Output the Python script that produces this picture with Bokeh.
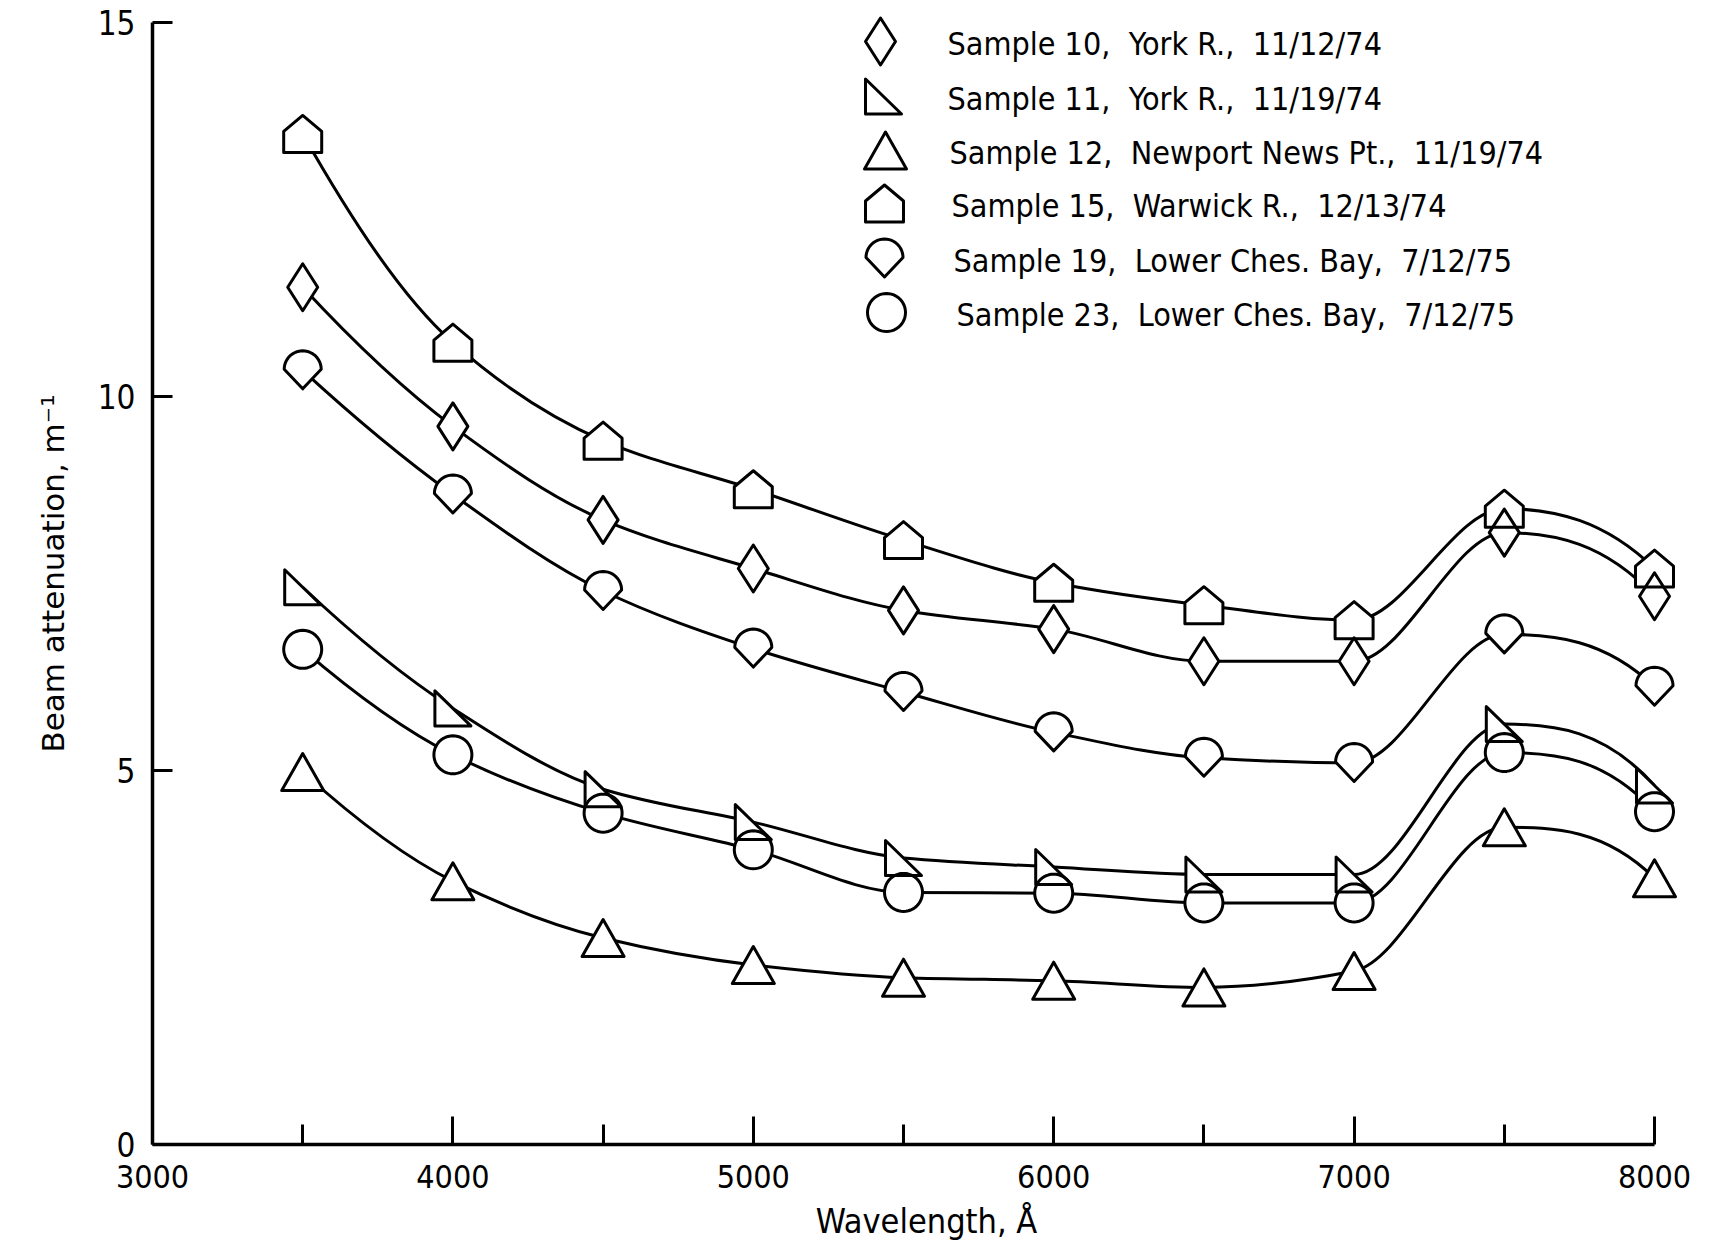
import math
from bokeh.plotting import figure
from bokeh.models import Range1d, FixedTicker, ColumnDataSource, Label
from bokeh.embed import file_html
from bokeh.resources import INLINE

# ---------------- data ----------------
wavelength = [3500, 4000, 4500, 5000, 5500, 6000, 6500, 7000, 7500, 8000]
sample10 = [11.46, 9.60, 8.35, 7.70, 7.14, 6.89, 6.46, 6.46, 8.18, 7.33]
sample11 = [7.45, 5.83, 4.75, 4.31, 3.83, 3.71, 3.61, 3.61, 5.62, 4.80]
sample12 = [4.98, 3.52, 2.76, 2.40, 2.23, 2.19, 2.10, 2.32, 4.24, 3.56]
sample15 = [13.51, 10.72, 9.41, 8.76, 8.08, 7.51, 7.21, 7.01, 8.50, 7.70]
sample19 = [10.35, 8.69, 7.40, 6.63, 6.05, 5.51, 5.17, 5.10, 6.82, 6.12]
sample23 = [6.62, 5.21, 4.43, 3.94, 3.37, 3.36, 3.23, 3.23, 5.24, 4.45]

NB = "\u00a0"
series_labels = [
    "Sample 10," + NB + " York R.," + NB + " 11/12/74",
    "Sample 11," + NB + " York R.," + NB + " 11/19/74",
    "Sample 12," + NB + " Newport News Pt.," + NB + " 11/19/74",
    "Sample 15," + NB + " Warwick R.," + NB + " 12/13/74",
    "Sample 19," + NB + " Lower Ches. Bay," + NB + " 7/12/75",
    "Sample 23," + NB + " Lower Ches. Bay," + NB + " 7/12/75",
]
series_values = [sample10, sample11, sample12, sample15, sample19, sample23]
series_markers = ["diamond", "rtri", "tri", "house", "drop", "circle"]

x_ticks = [3000, 4000, 5000, 6000, 7000, 8000]
x_minor_ticks = [3500, 4500, 5500, 6500, 7500]
y_ticks = [0, 5, 10, 15]
x_title = "Wavelength, Å"
y_title = "Beam attenuation, m\u207b\u00b9"

# ---------------- geometry of the page ----------------
FRAME_LEFT = 152
FRAME_W = 1548
FRAME_H = 1142
BORDER_TOP = 2
BORDER_BOTTOM = 107
BORDER_RIGHT = 1714 - FRAME_LEFT - FRAME_W
PX_X = 5000.0 / 1502.0   # data units per pixel along x
PX_Y = 15.0 / 1122.0     # data units per pixel along y
X_END = 3000 + FRAME_W * PX_X
Y_END = FRAME_H * PX_Y
BOTTOM_PIX = BORDER_TOP + FRAME_H  # pixel row of y = 0


def px_to_x(px):
    return 3000 + (px - FRAME_LEFT) * PX_X


def py_to_y(py):
    return (BOTTOM_PIX - py) * PX_Y


def arc(cx, cy, r, a0, a1, n):
    return [(cx + r * math.cos(a0 + (a1 - a0) * k / n),
             cy + r * math.sin(a0 + (a1 - a0) * k / n)) for k in range(n + 1)]


SHAPES = {
    "diamond": [(0, 23.5), (15, 0), (0, -23.5), (-15, 0)],
    "rtri": [(-18, 17.5), (-18, -17.5), (18, -17.5)],
    "tri": [(0, 18.5), (21, -18.5), (-21, -18.5)],
    "house": [(0, 18.5), (19, 2.5), (19, -18.5), (-19, -18.5), (-19, 2.5)],
    "drop": arc(0, 1, 18.5, 0, math.pi, 24) + [(0, -18.5)],
    "circle": arc(0, 0, 19, 0, 2 * math.pi, 48)[:-1],
}


def shape_at(kind, x, y):
    pts = SHAPES[kind]
    return [x + dx * PX_X for dx, dy in pts], [y + dy * PX_Y for dx, dy in pts]


def pchip_slopes(xs, ys):
    n = len(xs)
    h = [xs[i + 1] - xs[i] for i in range(n - 1)]
    d = [(ys[i + 1] - ys[i]) / h[i] for i in range(n - 1)]
    m = [0.0] * n
    for k in range(1, n - 1):
        if d[k - 1] * d[k] <= 0:
            m[k] = 0.0
        else:
            w1 = 2 * h[k] + h[k - 1]
            w2 = h[k] + 2 * h[k - 1]
            m[k] = (w1 + w2) / (w1 / d[k - 1] + w2 / d[k])

    def end(h0, h1, d0, d1):
        mm = ((2 * h0 + h1) * d0 - h0 * d1) / (h0 + h1)
        if mm * d0 <= 0:
            return 0.0
        if d0 * d1 < 0 and abs(mm) > 3 * abs(d0):
            return 3 * d0
        return mm

    m[0] = end(h[0], h[1], d[0], d[1])
    m[-1] = end(h[-1], h[-2], d[-1], d[-2])
    return m


FONT_COND = "DejaVu Sans Condensed"

p = figure(frame_width=FRAME_W, frame_height=FRAME_H,
           x_range=Range1d(3000, X_END), y_range=Range1d(0, Y_END),
           output_backend="svg", toolbar_location=None,
           min_border_left=FRAME_LEFT, min_border_right=BORDER_RIGHT,
           min_border_top=BORDER_TOP, min_border_bottom=BORDER_BOTTOM,
           background_fill_color="white", border_fill_color="white")
p.outline_line_color = None
p.xgrid.visible = False
p.ygrid.visible = False

# ---------------- axes ----------------
xa = p.xaxis[0]
xa.ticker = FixedTicker(ticks=x_ticks, minor_ticks=x_minor_ticks)
xa.bounds = (3000, 8000)
xa.axis_line_width = 3.5
xa.major_tick_line_width = 3
xa.minor_tick_line_width = 3
xa.major_tick_in = 28
xa.major_tick_out = 0
xa.minor_tick_in = 20
xa.minor_tick_out = 0
xa.major_label_text_font = FONT_COND
xa.major_label_text_font_size = "32px"
xa.major_label_text_color = "black"
xa.major_label_standoff = 20
xa.axis_label = x_title
xa.axis_label_text_font = FONT_COND
xa.axis_label_text_font_size = "34px"
xa.axis_label_text_font_style = "normal"
xa.axis_label_text_color = "black"
xa.axis_label_standoff = 10

ya = p.yaxis[0]
ya.ticker = FixedTicker(ticks=y_ticks, minor_ticks=[])
ya.bounds = (0, 15)
ya.axis_line_width = 3.5
ya.major_tick_line_width = 3
ya.major_tick_in = 20
ya.major_tick_out = 0
ya.minor_tick_in = 0
ya.minor_tick_out = 0
ya.major_label_text_font = FONT_COND
ya.major_label_text_font_size = "33px"
ya.major_label_text_color = "black"
ya.major_label_standoff = 17
ya.axis_label = y_title
ya.axis_label_text_font = "DejaVu Sans"
ya.axis_label_text_font_size = "31px"
ya.axis_label_text_font_style = "normal"
ya.axis_label_text_color = "black"
ya.axis_label_standoff = 24

# ---------------- smooth curves (monotone cubic as Bezier segments) ----------------
for vals in series_values:
    n = len(wavelength)
    m = pchip_slopes(wavelength, vals)
    seg = dict(x0=[], y0=[], x1=[], y1=[], cx0=[], cy0=[], cx1=[], cy1=[])
    for i in range(n - 1):
        h = wavelength[i + 1] - wavelength[i]
        seg["x0"].append(wavelength[i]); seg["y0"].append(vals[i])
        seg["x1"].append(wavelength[i + 1]); seg["y1"].append(vals[i + 1])
        seg["cx0"].append(wavelength[i] + h / 3.0)
        seg["cy0"].append(vals[i] + m[i] * h / 3.0)
        seg["cx1"].append(wavelength[i + 1] - h / 3.0)
        seg["cy1"].append(vals[i + 1] - m[i + 1] * h / 3.0)
    p.bezier(x0="x0", y0="y0", x1="x1", y1="y1", cx0="cx0", cy0="cy0",
             cx1="cx1", cy1="cy1", source=ColumnDataSource(seg),
             line_color="black", line_width=3)

# ---------------- markers ----------------
mx, my = [], []
for vals, kind in zip(series_values, series_markers):
    for w, v in zip(wavelength, vals):
        xs, ys = shape_at(kind, w, v)
        mx.append(xs)
        my.append(ys)

# legend symbols
legend_rows_py = [41, 96, 150, 203, 258, 312]
legend_sym_px = [880, 883, 885, 884, 884, 886]
legend_txt_px = [947, 947, 949, 951, 953, 956]
for kind, py, sx in zip(series_markers, legend_rows_py, legend_sym_px):
    xs, ys = shape_at(kind, px_to_x(sx), py_to_y(py))
    mx.append(xs)
    my.append(ys)

msrc = ColumnDataSource(dict(xs=mx, ys=my))
p.patches("xs", "ys", source=msrc, fill_color="white", line_color=None)
p.patches("xs", "ys", source=msrc, fill_alpha=0, line_color="black",
          line_width=3, line_join="round")

for lab, py, tx in zip(series_labels, legend_rows_py, legend_txt_px):
    p.add_layout(Label(x=px_to_x(tx), y=py_to_y(py + 2), text=lab,
                       text_font=FONT_COND, text_font_size="32px",
                       text_baseline="middle", text_align="left",
                       text_color="black"))

open("out.html", "w").write(file_html(p, INLINE))
